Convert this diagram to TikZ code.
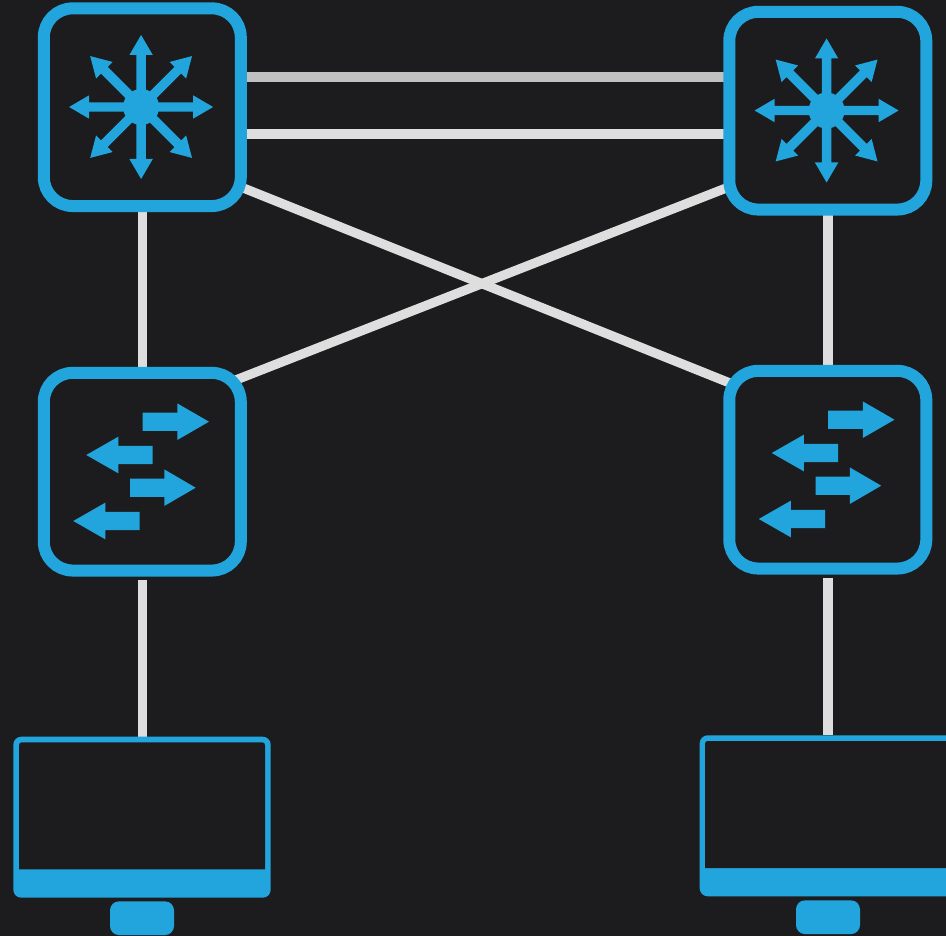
\documentclass[tikz,border=0pt]{standalone}
\usetikzlibrary{calc}
\definecolor{bgc}{HTML}{1C1C1E}
\definecolor{blu}{HTML}{22A5DC}
\definecolor{lnk}{HTML}{DEDEDE}
\definecolor{lnkb}{HTML}{C0C0C0}
\pgfdeclarelayer{edges}
\pgfsetlayers{edges,main}
\tikzset{
  devbox/.style={rectangle,draw=blu,line width=12pt,rounded corners=29pt,minimum width=197pt,minimum height=197.7pt,inner sep=0pt,outer sep=0pt},
  monbody/.style={rectangle,fill=blu,rounded corners=8pt,minimum width=257.4pt,minimum height=161pt,inner sep=0pt,outer sep=0pt},
  monstand/.style={rectangle,fill=blu,rounded corners=9pt,minimum width=64pt,minimum height=33.7pt,inner sep=0pt,outer sep=0pt},
  link/.style={lnk,line width=9.5pt},
  linkb/.style={lnkb,line width=9.5pt},
  diag/.style={lnk,line width=9.3pt}
}
\newcommand{\routericon}[1]{%
  \begin{scope}[shift={(#1)},shift={(-1.2,-0.2)}]
  \fill[blu] (0,0) circle (18pt);
  \foreach \a in {0,45,...,315}{
    \fill[blu,rotate=\a] (0,-4.7) -- (52,-4.7) -- (52,-11.7) -- (72,0) -- (52,11.7) -- (52,4.7) -- (0,4.7) -- cycle;
  }
  \end{scope}%
}
\newcommand{\flowarrow}[4]{%
  \fill[blu] (#1,#4-9.2) -- (#2,#4-9.2) -- (#2,#4-18.3) -- (#3,#4) -- (#2,#4+18.3) -- (#2,#4+9.2) -- (#1,#4+9.2) -- cycle;
}
\newcommand{\switchicon}[1]{%
  \begin{scope}[shift={(#1)}]
    \flowarrow{0.4}{35}{66.7}{-50}
    \flowarrow{10.4}{-24}{-56}{-16.7}
    \flowarrow{-12.3}{22}{53.4}{16}
    \flowarrow{-2.6}{-37}{-69}{49.3}
  \end{scope}%
}
\begin{document}
\begin{tikzpicture}[x=1pt,y=-1pt]
\useasboundingbox (0,0) rectangle (946,936);
\clip (0,0) rectangle (946,936);
\begin{pgfonlayer}{edges}
\fill[bgc] (0,0) rectangle (946,936);
\end{pgfonlayer}
% devices
\node[devbox] (r1) at (142.3,107.2) {};
\node[devbox] (r2) at (827.8,110.7) {};
\node[devbox] (s1) at (142.3,471.7) {};
\node[devbox] (s2) at (827.8,469.7) {};
\routericon{r1.center}
\routericon{r2.center}
\switchicon{s1.center}
\switchicon{s2.center}
% monitors
\node[monbody] (m1) at (142,817.2) {};
\fill[bgc] (19,869.3) -- (19,745.3) .. controls (19,743.2) and (20,742.3) .. (22,742.3) -- (262,742.3) .. controls (264,742.3) and (265,743.2) .. (265,745.3) -- (265,869.3) -- cycle;
\node[monstand] (st1) at (142,918.2) {};
\node[monbody] (m2) at (828.4,815.8) {};
\fill[bgc] (705,868) -- (705,744) .. controls (705,741.9) and (706,741) .. (708,741) -- (948,741) .. controls (950,741) and (951,741.9) .. (951,744) -- (951,868) -- cycle;
\node[monstand] (st2) at (828,917.2) {};
% connectors
\begin{pgfonlayer}{edges}
\draw[linkb] ([shift={(0,-30.2)}]r1.east) -- ([shift={(0,-33.7)}]r2.west);
\draw[link] ([shift={(0,26.8)}]r1.east) -- ([shift={(0,23.3)}]r2.west);
\draw[diag] ([shift={(3,81)}]r1.east) -- ([shift={(1,-86.5)}]s2.west);
\draw[diag] ([shift={(-5,-91.7)}]s1.east) -- ([shift={(-1,76.5)}]r2.west);
\draw[link] (r1) -- (s1);
\draw[link] (r2) -- (s2);
\draw[link,shorten <=9pt] (s1.south) -- (m1.north -| s1.south);
\draw[link,shorten <=9pt] (s2.south) -- (m2.north -| s2.south);
\end{pgfonlayer}
\end{tikzpicture}
\end{document}
